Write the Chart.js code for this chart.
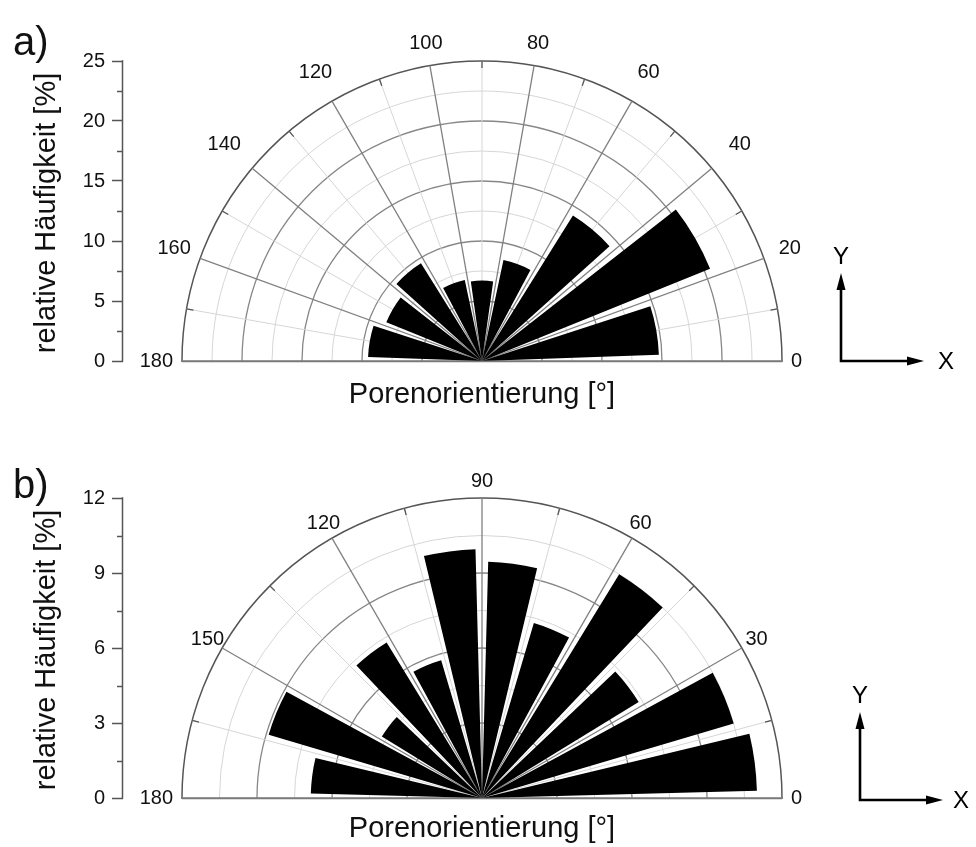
<!DOCTYPE html>
<html>
<head>
<meta charset="utf-8">
<script src="https://cdn.jsdelivr.net/npm/chart.js@4.4.1/dist/chart.umd.min.js"></script>
<style>
  html, body { margin: 0; padding: 0; background: #fff; }
  .panel { position: absolute; left: 0; width: 976px; overflow: hidden; }
  #pa { top: 0; height: 423px; }
  #pb { top: 423px; height: 424px; }
  canvas { display: block; }
</style>
</head>
<body>
<div class="panel" id="pa"><canvas id="ca" width="976" height="700"></canvas></div>
<div class="panel" id="pb"><canvas id="cb" width="976" height="720"></canvas></div>
<script>
// Panel a: pore orientation in 20° classes
const binCentersA = [10, 30, 50, 70, 90, 110, 130, 150, 170];
const freqA = [14.75, 20.5, 14.3, 8.6, 6.7, 6.9, 9.6, 8.6, 9.5];
const angleTicksA = [0, 20, 40, 60, 80, 100, 120, 140, 160, 180];
const radialTicksA = [0, 5, 10, 15, 20, 25];

// Panel b: pore orientation in 15° classes
const binCentersB = [7.5, 22.5, 37.5, 52.5, 67.5, 82.5, 97.5, 112.5, 127.5, 142.5, 157.5, 172.5];
const freqB = [11.0, 10.5, 7.35, 10.5, 7.3, 9.45, 9.95, 5.75, 7.3, 4.7, 8.9, 6.85];
const angleTicksB = [0, 30, 60, 90, 120, 150, 180];
const radialTicksB = [0, 3, 6, 9, 12];

const yTitle = 'relative Häufigkeit [%]';
const xTitle = 'Porenorientierung [°]';

const FONT = "'Liberation Sans', Arial, Helvetica, sans-serif";
const isMult = (v, m) => Math.abs(v / m - Math.round(v / m)) < 1e-6;

// Sectors run clockwise on the canvas, i.e. from 180° over 90° down to 0°.
// Narrow transparent sectors keep the white wedge between neighbouring classes.
function sectorLayout(centers, values, barWidth) {
  const data = [], angles = [], fills = [];
  let edge = 180;
  const order = centers.map((_, i) => i).sort((p, q) => centers[q] - centers[p]);
  for (const i of order) {
    const hi = centers[i] + barWidth / 2;
    const gap = edge - hi;
    if (gap > 1e-6) { data.push(0); angles.push(gap); fills.push('rgba(0,0,0,0)'); }
    data.push(values[i]); angles.push(barWidth); fills.push('#000');
    edge = centers[i] - barWidth / 2;
  }
  return { data, angles, fills };
}

function makeRose(canvasId, spec) {
  const s = sectorLayout(spec.centers, spec.values, spec.barWidth);
  const rStep = spec.radialTicks[1] - spec.radialTicks[0];
  const rMax = spec.radialTicks[spec.radialTicks.length - 1];
  const aStep = spec.angleTicks[1] - spec.angleTicks[0];
  const spoke = aStep / 2;
  const nSpokes = Math.round(360 / spoke);
  const spokeLabels = Array.from({ length: nSpokes }, (_, i) => String(180 - i * spoke));
  const spokeDeg = i => 180 - i * spoke;
  const isRadialTick = v => v >= 0 && spec.radialTicks.some(t => Math.abs(t - v) < 1e-6);

  const decor = {
    id: 'roseDecor',
    beforeDraw(chart) {
      // the polar grid is shown for the upper half only; the value axis strip stays free
      const r = chart.scales.r, ctx = chart.ctx;
      const left = chart.chartArea.left;
      ctx.save();
      ctx.beginPath();
      ctx.rect(0, 0, left, chart.height);
      ctx.rect(left, 0, chart.width - left, r.yCenter + 1);
      ctx.clip();
    },
    afterDatasetsDraw(chart) {
      chart.ctx.restore();
    },
    afterDraw(chart) {
      const ctx = chart.ctx, r = chart.scales.r, y = chart.scales.y;
      const xc = r.xCenter, yc = r.yCenter;
      const R = r.getDistanceFromCenterForValue(rMax);
      ctx.save();

      // base line 0°–180°
      ctx.strokeStyle = '#7a7a7a';
      ctx.lineWidth = 1.5;
      ctx.beginPath();
      ctx.moveTo(xc - R, yc + 0.5);
      ctx.lineTo(xc + R, yc + 0.5);
      ctx.stroke();

      // short inner ticks on the outer arc between the labelled directions
      ctx.strokeStyle = '#555';
      ctx.lineWidth = 1.3;
      for (let d = spoke; d < 180; d += aStep) {
        const t = d * Math.PI / 180;
        ctx.beginPath();
        ctx.moveTo(xc + (R - 7) * Math.cos(t), yc - (R - 7) * Math.sin(t));
        ctx.lineTo(xc + R * Math.cos(t), yc - R * Math.sin(t));
        ctx.stroke();
      }

      // direction labels around the arc (diagonal labels sit a little further out)
      ctx.fillStyle = '#111';
      ctx.font = '20px ' + FONT;
      ctx.textAlign = 'center';
      ctx.textBaseline = 'middle';
      for (const d of spec.angleTicks) {
        const t = d * Math.PI / 180;
        const txt = String(d);
        const w = ctx.measureText(txt).width;
        const horizontal = d === 0 || d === 180;
        const diag = Math.pow(Math.sin(2 * t), 2);
        const dist = horizontal ? R + 9 + w / 2 : R + spec.labelRadial + spec.labelDiag * diag;
        ctx.fillText(txt, xc + dist * Math.cos(t), yc - dist * Math.sin(t));
      }

      // left value axis line and minor ticks
      const xa = chart.chartArea.left;
      const y0 = y.getPixelForValue(0), yTop = y.getPixelForValue(rMax);
      ctx.strokeStyle = '#555';
      ctx.lineWidth = 1.5;
      ctx.beginPath();
      ctx.moveTo(xa - 0.5, y0 + 0.75);
      ctx.lineTo(xa - 0.5, yTop - 0.75);
      ctx.stroke();
      for (let v = rStep / 2; v < rMax; v += rStep) {
        const py = Math.round(y.getPixelForValue(v)) + 0.5;
        ctx.beginPath();
        ctx.moveTo(xa - 6, py);
        ctx.lineTo(xa, py);
        ctx.stroke();
      }

      // axis titles
      ctx.fillStyle = '#111';
      ctx.font = '29px ' + FONT;
      ctx.textAlign = 'center';
      ctx.textBaseline = 'middle';
      ctx.save();
      ctx.translate(47, (y0 + yTop) / 2 + 2);
      ctx.rotate(-Math.PI / 2);
      ctx.fillText(yTitle, 0, 0);
      ctx.restore();
      ctx.fillText(xTitle, xc, yc + spec.xTitleOffset);

      // panel letter
      ctx.font = '40px ' + FONT;
      ctx.textAlign = 'left';
      ctx.fillText(spec.letter, 13, spec.letterY);

      // orientation key X / Y
      const ox = spec.keyX, oy = yc + spec.keyDy;
      ctx.strokeStyle = '#000';
      ctx.fillStyle = '#000';
      ctx.lineWidth = 2.6;
      ctx.beginPath();
      ctx.moveTo(ox, oy);
      ctx.lineTo(ox, oy - 74);
      ctx.moveTo(ox - 1.3, oy);
      ctx.lineTo(ox + 68, oy);
      ctx.stroke();
      ctx.beginPath();
      ctx.moveTo(ox, oy - 88);
      ctx.lineTo(ox - 4.5, oy - 71);
      ctx.lineTo(ox + 4.5, oy - 71);
      ctx.closePath();
      ctx.fill();
      ctx.beginPath();
      ctx.moveTo(ox + 83, oy);
      ctx.lineTo(ox + 66, oy - 4.5);
      ctx.lineTo(ox + 66, oy + 4.5);
      ctx.closePath();
      ctx.fill();
      ctx.font = '24px ' + FONT;
      ctx.textAlign = 'center';
      ctx.fillText('Y', ox, oy - 104);
      ctx.fillText('X', ox + spec.keyXLabel, oy + 1);

      ctx.restore();
    }
  };

  return new Chart(document.getElementById(canvasId), {
    type: 'polarArea',
    data: {
      labels: spokeLabels,
      datasets: [{
        data: s.data,
        backgroundColor: s.fills,
        borderWidth: 0,
        angle: c => s.angles[c.dataIndex]
      }]
    },
    options: {
      responsive: false,
      animation: false,
      events: [],
      layout: { padding: { left: 0, right: 135, top: spec.padTop, bottom: spec.padBottom } },
      plugins: { legend: { display: false }, tooltip: { enabled: false } },
      scales: {
        r: {
          startAngle: -90,
          min: 0,
          max: rMax,
          ticks: { display: false, stepSize: rStep / 2 },
          pointLabels: { display: false },
          grid: {
            circular: true,
            color: c => {
              const v = c.tick.value;
              if (Math.abs(v - rMax) < 1e-6) return '#555';
              return isMult(v, rStep) ? '#878787' : '#d6d6d6';
            },
            lineWidth: c => {
              const v = c.tick.value;
              if (Math.abs(v - rMax) < 1e-6) return 1.5;
              return isMult(v, rStep) ? 1.3 : 1;
            }
          },
          angleLines: {
            display: true,
            color: c => isMult(spokeDeg(c.index), aStep) ? '#808080' : '#d6d6d6',
            lineWidth: c => isMult(spokeDeg(c.index), aStep) ? 1.3 : 1
          }
        },
        y: {
          type: 'linear',
          position: 'left',
          min: -rMax,
          max: rMax,
          afterFit: sc => { sc.width = 123; },
          ticks: {
            stepSize: rStep / 2,
            autoSkip: false,
            padding: 7,
            color: '#111',
            font: { family: FONT, size: 20 },
            callback: v => isRadialTick(v) ? String(v) : ''
          },
          grid: {
            drawOnChartArea: false,
            drawTicks: true,
            tickLength: 11,
            tickWidth: 1.5,
            tickColor: c => isRadialTick(c.tick.value) ? '#555' : 'rgba(0,0,0,0)'
          },
          border: { display: false }
        }
      }
    },
    plugins: [decor]
  });
}

makeRose('ca', {
  centers: binCentersA, values: freqA, barWidth: 16,
  angleTicks: angleTicksA, radialTicks: radialTicksA,
  padTop: 61, padBottom: 39, labelRadial: 21, labelDiag: 16, xTitleOffset: 34,
  letter: 'a)', letterY: 44, keyX: 841, keyDy: 0, keyXLabel: 105
});

makeRose('cb', {
  centers: binCentersB, values: freqB, barWidth: 12,
  angleTicks: angleTicksB, radialTicks: radialTicksB,
  padTop: 75, padBottom: 45, labelRadial: 17, labelDiag: 0, xTitleOffset: 31,
  letter: 'b)', letterY: 64, keyX: 860, keyDy: 2, keyXLabel: 101
});
</script>
</body>
</html>
